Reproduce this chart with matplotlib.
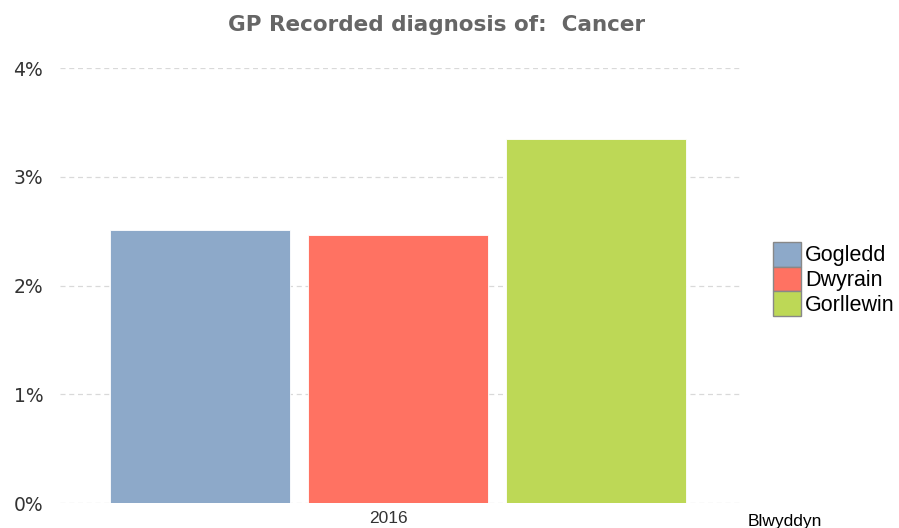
import matplotlib.pyplot as plt
import matplotlib.ticker as mticker
import matplotlib.transforms as mtransforms

plt.rcParams['font.family'] = ['Liberation Sans', 'DejaVu Sans']

# data
regions = ["Gogledd", "Dwyrain", "Gorllewin"]
values = [0.0251, 0.0246, 0.0335]
colors = ["#8DA9C9", "#FF7262", "#BDD856"]
year = "2016"

fig = plt.figure(figsize=(8.99, 5.28), dpi=100)
ax = fig.add_axes([0.0667, 0.0473, 0.7587, 0.8239])

positions = [-1, 0, 1]
for pos, val, col, name in zip(positions, values, colors, regions):
    ax.bar(pos, val, width=0.912, color=col, edgecolor="white",
           linewidth=0.6, label=name, zorder=2)

ax.set_xlim(-1.71, 1.74)
ax.set_ylim(0, 0.04)
ax.yaxis.set_major_locator(mticker.MultipleLocator(0.01))
ax.yaxis.set_major_formatter(mticker.FuncFormatter(lambda v, p: f"{v*100:.0f}%"))
ax.grid(axis="y", color="#D9D9D9", linestyle=(0, (4, 3)), linewidth=0.9, zorder=0)
ax.set_axisbelow(True)

for s in ax.spines.values():
    s.set_visible(False)

ax.set_xticks([0])
ax.set_xticklabels([year])
ax.tick_params(axis="both", length=0, labelsize=12.5, colors="#333333")
ax.tick_params(axis="x", pad=6)
ax.tick_params(axis="y", pad=12)
for lab in ax.get_yticklabels():
    lab.set_family("DejaVu Sans")
    lab.set_fontsize(13.5)
# year label sits slightly left of the group centre
shift = mtransforms.ScaledTranslation(-10 / 100, 0, fig.dpi_scale_trans)
for lab in ax.get_xticklabels():
    lab.set_transform(lab.get_transform() + shift)

fig.text(0.486, 0.952, "GP Recorded diagnosis of:  Cancer", ha="center", va="center",
         fontsize=15.5, fontweight="bold", color="#666666", family="DejaVu Sans")
fig.text(0.832, 0.012, "Blwyddyn", ha="left", va="center", fontsize=12.5, color="#000000")

leg = ax.legend(loc="upper left", bbox_to_anchor=(1.045, 0.6), frameon=False,
                fontsize=15.5, handlelength=1.3, handleheight=1.38,
                labelspacing=0.0, handletextpad=0.2, borderpad=0, borderaxespad=0)
for h in leg.legend_handles:
    h.set_edgecolor("#888888")
    h.set_linewidth(1.0)

fig.savefig("out.png", dpi=100)
